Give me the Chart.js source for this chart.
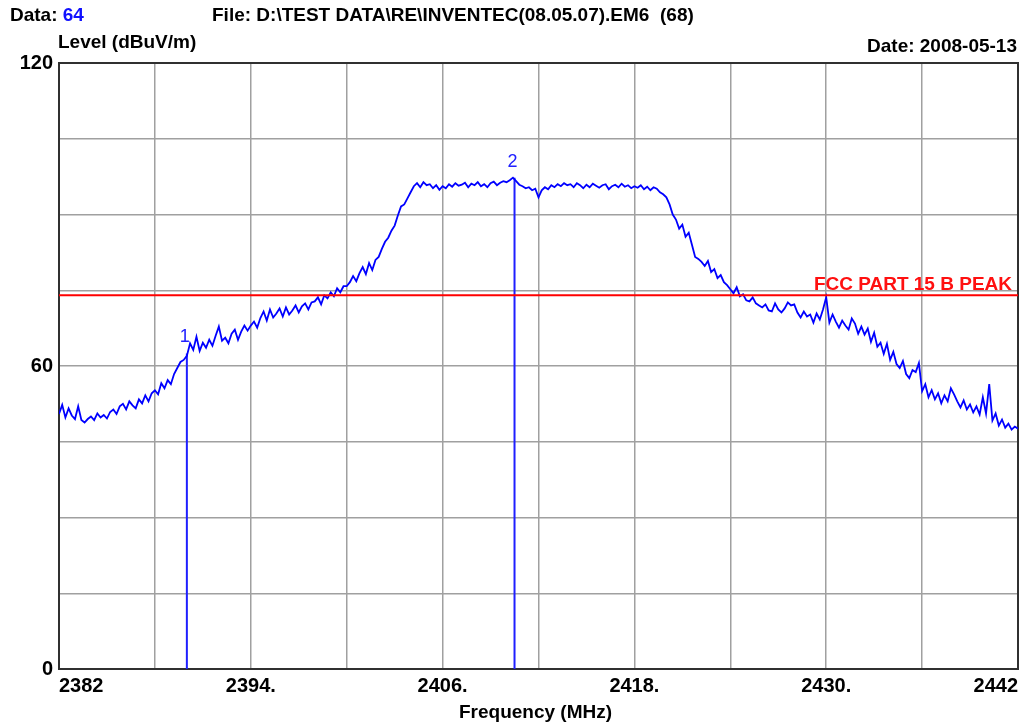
<!DOCTYPE html>
<html><head><meta charset="utf-8">
<script src="https://cdn.jsdelivr.net/npm/chart.js@4.4.0/dist/chart.umd.min.js"></script>
<style>
html,body{margin:0;padding:0;background:#fff;}
#wrap{position:relative;width:1034px;height:724px;overflow:hidden;font-family:"Liberation Sans",Arial,sans-serif;font-weight:bold;color:#000;}
canvas{position:absolute;left:0;top:0;}
.t{position:absolute;white-space:pre;font-size:19px;line-height:19px;}
</style></head><body>
<div id="wrap">
<canvas id="c" width="1034" height="724"></canvas>
<div class="t" style="left:10px;top:5px">Data: <span style="color:#1010ff">64</span></div>
<div class="t" style="left:212px;top:5px">File: D:\TEST DATA\RE\INVENTEC(08.05.07).EM6  (68)</div>
<div class="t" style="left:58px;top:32px">Level (dBuV/m)</div>
<div class="t" style="right:17px;top:36px">Date: 2008-05-13</div>
<div class="t" style="left:459px;top:702px">Frequency (MHz)</div>
</div>
<script>
const freqStart = 2382;
const freqStep = 0.2;
const levels = [
 50.5, 52.3, 49.8, 51.6, 50.2, 49.5, 52.0, 49.3, 48.8, 49.5,
 50.0, 49.3, 50.6, 49.8, 50.3, 49.6, 50.9, 51.4, 50.5, 52.0,
 52.5, 51.4, 53.0, 52.2, 51.6, 53.4, 52.6, 54.2, 53.0, 54.6,
 55.2, 54.4, 56.6, 55.6, 57.2, 56.4, 58.4, 59.6, 60.8, 61.2,
 62.0, 64.5, 63.2, 65.8, 63.0, 64.6, 63.6, 65.2, 64.0, 66.0,
 67.8, 65.0, 65.6, 64.5, 66.4, 67.2, 65.2, 66.8, 68.0, 67.0,
 68.0, 68.8, 67.6, 69.5, 70.8, 69.0, 71.2, 69.6, 70.4, 71.4,
 69.8, 71.6, 70.2, 71.0, 72.0, 70.6, 71.8, 72.4, 71.2, 72.6,
 72.8, 73.6, 72.2, 74.0, 73.4, 74.6, 73.8, 75.4, 74.6, 75.8,
 75.8, 76.6, 77.8, 76.8, 78.4, 79.6, 78.2, 80.4, 79.0, 81.0,
 81.6, 83.2, 84.6, 85.4, 86.8, 87.8, 89.8, 91.6, 92.0, 93.2,
 94.4, 95.6, 96.2, 95.4, 96.4, 95.8, 96.0, 95.2, 95.8, 94.9,
 95.6, 95.2, 96.0, 95.5, 96.2, 95.7, 95.9, 96.3, 95.4, 96.1,
 95.8, 96.4, 95.6, 96.0, 95.4, 96.2, 96.5, 95.8, 96.3, 96.6,
 96.4, 96.8, 97.3, 96.6, 95.9, 95.6, 95.2, 95.4, 94.8, 95.1,
 93.4, 94.8, 95.4, 95.0, 95.8, 95.4, 96.0, 95.6, 96.2, 95.8,
 96.0, 95.4, 96.2, 95.8, 95.2, 95.9, 95.4, 96.1, 95.7, 95.3,
 95.8, 96.0, 95.0, 95.6, 95.9, 95.4, 96.1, 95.5, 95.8, 95.2,
 95.6, 95.3, 95.8, 95.0, 95.5, 94.8, 95.4, 95.1, 94.4, 94.0,
 93.4, 92.0, 90.0, 89.0, 87.2, 88.0, 85.6, 86.4, 84.0, 81.6,
 81.2, 80.6, 79.8, 80.8, 78.6, 79.2, 77.4, 78.0, 76.6, 76.0,
 75.2, 74.4, 75.6, 73.8, 74.2, 73.0, 72.8, 73.6, 72.4, 72.0,
 71.6, 72.2, 71.0, 70.8, 72.4, 71.2, 70.6, 71.4, 72.6, 72.0,
 72.2, 70.6, 69.6, 70.8, 69.8, 70.2, 68.6, 70.4, 69.2, 71.2,
 73.6, 68.6, 70.2, 68.8, 67.6, 69.0, 68.0, 67.2, 69.4, 68.4,
 66.4, 67.8, 66.2, 67.4, 64.8, 66.6, 63.8, 64.6, 62.4, 64.4,
 61.2, 62.8, 60.4, 59.6, 61.0, 58.4, 57.6, 59.2, 58.8, 60.6,
 55.0, 56.4, 53.8, 55.2, 53.4, 54.6, 52.6, 54.2, 53.0, 55.6,
 54.4, 53.0, 51.8, 53.2, 51.4, 52.4, 50.8, 52.0, 50.4, 53.8,
 50.6, 56.4, 49.2, 50.6, 48.2, 49.4, 47.8, 48.6, 47.4, 48.0,
 47.6
];
const limitLevel = 74;
const limitLabel = 'FCC PART 15 B PEAK';
const markerFreqs = [2390, 2410.5];
const markerLevels = [62.5, 97.3];
const markerLabels = ['1', '2'];
const xMin = 2382, xMax = 2442, xGridStep = 6;
const xTickValues = [2382, 2394, 2406, 2418, 2430, 2442];
const xTickTexts = ['2382', '2394.', '2406.', '2418.', '2430.', '2442'];
const yMin = 0, yMax = 120, yGridStep = 15;
const yTickValues = [0, 60, 120];
const yTickTexts = ['0', '60', '120'];

const traceData = levels.map((v, i) => ({x: +(freqStart + i * freqStep).toFixed(2), y: v}));
const limitData = [{x: xMin, y: limitLevel}, {x: xMax, y: limitLevel}];
const markerSets = markerFreqs.map((f, i) => ({
  data: [{x: f, y: 0}, {x: f, y: markerLevels[i]}],
  borderColor: '#1f1fff', borderWidth: 2, pointRadius: 0, fill: false
}));

const decor = {
  id: 'decor',
  beforeDatasetsDraw(chart) {
    const {ctx, chartArea: a} = chart;
    ctx.save();
    ctx.strokeStyle = '#303030';
    ctx.lineWidth = 2;
    ctx.strokeRect(a.left, a.top, a.right - a.left, a.bottom - a.top);
    ctx.restore();
  },
  afterDatasetsDraw(chart) {
    const {ctx} = chart;
    const xs = chart.scales.x, ys = chart.scales.y;
    ctx.save();
    ctx.fillStyle = '#ff1010';
    ctx.font = 'bold 19px "Liberation Sans", Arial, sans-serif';
    ctx.textAlign = 'right';
    ctx.textBaseline = 'alphabetic';
    ctx.fillText(limitLabel, xs.getPixelForValue(xMax) - 6, ys.getPixelForValue(limitLevel) - 5);
    ctx.fillStyle = '#2020ff';
    ctx.font = '18px "Liberation Sans", Arial, sans-serif';
    ctx.textAlign = 'center';
    markerFreqs.forEach((f, i) => {
      ctx.fillText(markerLabels[i], xs.getPixelForValue(f) - 2, ys.getPixelForValue(markerLevels[i]) - 11);
    });
    ctx.restore();
  }
};

new Chart(document.getElementById('c'), {
  type: 'line',
  data: {
    datasets: [
      {data: limitData, borderColor: '#ff0000', borderWidth: 2, pointRadius: 0, fill: false},
      {data: traceData, borderColor: '#0000ff', borderWidth: 1.8, pointRadius: 0, fill: false, tension: 0},
      ...markerSets
    ]
  },
  options: {
    responsive: false,
    animation: false,
    devicePixelRatio: 1,
    layout: {padding: {left: 0, top: 63, right: 16, bottom: 0}},
    plugins: {legend: {display: false}, tooltip: {enabled: false}, title: {display: false}},
    scales: {
      x: {
        type: 'linear', min: xMin, max: xMax,
        afterBuildTicks(scale) {
          const t = [];
          for (let v = xMin; v <= xMax + 1e-9; v += xGridStep) t.push({value: v});
          scale.ticks = t;
        },
        afterFit(scale) { scale.height = 55; },
        ticks: {
          autoSkip: false, maxRotation: 0, minRotation: 0, align: 'inner', padding: 5,
          color: '#000', font: {family: '"Liberation Sans", Arial, sans-serif', size: 20, weight: 'bold'},
          callback(v) { const k = xTickValues.indexOf(v); return k >= 0 ? xTickTexts[k] : ''; }
        },
        grid: {color: '#a0a0a0', lineWidth: 1.5, drawTicks: false},
        border: {display: false}
      },
      y: {
        type: 'linear', min: yMin, max: yMax,
        afterBuildTicks(scale) {
          const t = [];
          for (let v = yMin; v <= yMax + 1e-9; v += yGridStep) t.push({value: v});
          scale.ticks = t;
        },
        afterFit(scale) { scale.width = 59; },
        ticks: {
          autoSkip: false, padding: 6,
          color: '#000', font: {family: '"Liberation Sans", Arial, sans-serif', size: 20, weight: 'bold'},
          callback(v) { const k = yTickValues.indexOf(v); return k >= 0 ? yTickTexts[k] : ''; }
        },
        grid: {color: '#a0a0a0', lineWidth: 1.5, drawTicks: false},
        border: {display: false}
      }
    }
  },
  plugins: [decor]
});
</script>
</body></html>
